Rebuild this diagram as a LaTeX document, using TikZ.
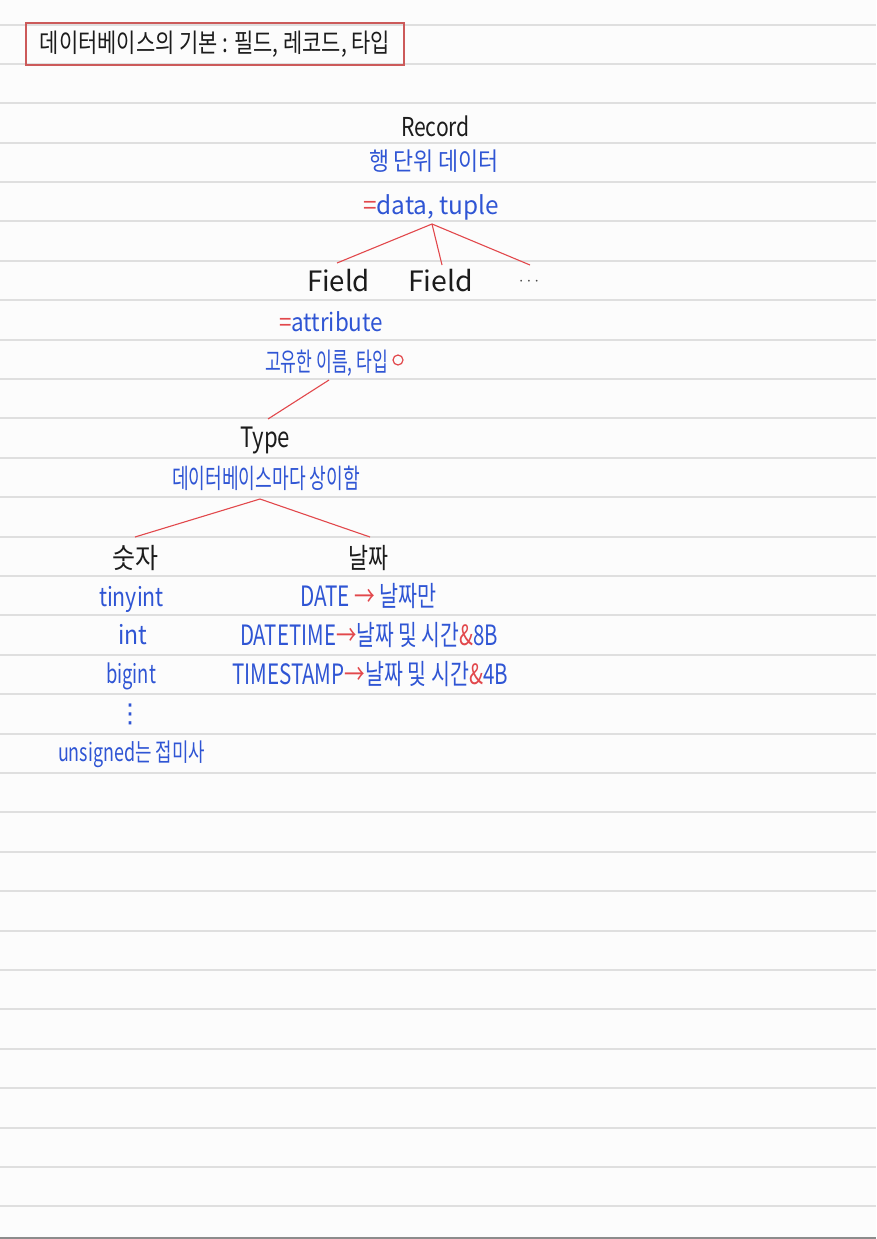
\documentclass[tikz,border=0pt]{standalone}
\usepackage{fontspec}
\setmainfont{Noto Sans CJK KR}
\newfontfamily\symfont{DejaVu Sans}
\usepackage{graphicx}
\definecolor{pen}{HTML}{2F55D4}
\definecolor{redpen}{HTML}{E2484C}
\definecolor{ink}{HTML}{1C1C1C}
\definecolor{rule}{HTML}{DFDFDF}
\definecolor{paper}{HTML}{FCFCFC}
\definecolor{boxred}{HTML}{CC5A5A}
\newsavebox\fitbox
\newcommand\fitx[2]{\sbox\fitbox{#2}\scalebox{\fpeval{#1/\wd\fitbox}}[1]{\usebox\fitbox}}
\newcommand\fsz[1]{\fontsize{#1}{#1}\selectfont}
\tikzset{
  hand/.style={inner sep=0pt, anchor=base},
  black/.style={text=ink},
  blue/.style={text=pen},
  link/.style={draw=redpen, line width=1.1pt},
}
\begin{document}
\begin{tikzpicture}[x=1pt,y=-1pt]
\useasboundingbox (0,0) rectangle (876,1239);
\fill[paper] (0,0) rectangle (876,1239);
\foreach \k in {0,...,30} {
  \pgfmathsetmacro{\yy}{round(24.5+39.4*\k)}
  \draw[rule, line width=2pt] (0,\yy) -- (876,\yy);
}
\draw[gray!90, line width=2pt] (0,1238) -- (876,1238);

% title
\node[draw=boxred, line width=1.4pt, minimum width=378pt, minimum height=42pt, inner sep=0pt, text=ink] (title) at (215,44)
  {\fsz{26}\fitx{350}{데이터베이스의 기본 : 필드, 레코드, 타입}};

% record
\node[hand, black] (rec) at (435.5,136) {\fsz{26}\fitx{69}{Record}};
\node[hand, blue] (recd) at (434,170) {\fsz{25}\fitx{130}{행 단위 데이터}};
\node[hand, blue] (dt) at (431,214) {\fsz{25}\fitx{136}{{\color{redpen}=}data, tuple}};

% fields
\node[hand, black] (f1) at (338.5,291) {\fsz{28}\fitx{63}{Field}};
\node[hand, black] (f2) at (440.5,291) {\fsz{28}\fitx{65}{Field}};
\node[hand, text=ink!80] (dots) at (529,285.5) {\fsz{18}$\cdots$};
\node[hand, blue] (attr) at (331,331) {\fsz{25}\fitx{104}{{\color{redpen}=}attribute}};
\node[hand, blue] (uniq) at (326.5,371) {\fsz{26}\fitx{123}{고유한 이름, 타입}};
\node[draw=redpen, line width=1.2pt, circle, minimum size=10pt, inner sep=0pt] (ring) at (398,360) {};

% type
\node[hand, black] (type) at (265,447) {\fsz{28}\fitx{50}{Type}};
\node[hand, blue] (diff) at (266,488) {\fsz{27}\fitx{188}{데이터베이스마다 상이함}};

% numbers
\node[hand, black] (num) at (135,568) {\fsz{28}\fitx{46}{숫자}};
\node[hand, blue] (tiny) at (131.5,606) {\fsz{26}\fitx{65}{tinyint}};
\node[hand, blue] (int) at (132.5,644) {\fsz{26}\fitx{29}{int}};
\node[hand, blue] (big) at (131,683) {\fsz{26}\fitx{50}{bigint}};
\node[inner sep=0pt, text=pen] (vd) at (130,714) {\symfont\fsz{26}⋮};
\node[hand, blue] (uns) at (131.5,761) {\fsz{25}\fitx{147}{unsigned는 접미사}};

% dates
\node[hand, black] (date) at (368,568) {\fsz{28}\fitx{40}{날짜}};
\node[hand, blue] (d1) at (368.5,606) {\fsz{28}\fitx{137}{DATE {\color{redpen}→} 날짜만}};
\node[hand, blue] (d2) at (369,645) {\fsz{28}\fitx{258}{DATETIME{\color{redpen}→}날짜 및 시간{\color{redpen}\&}8B}};
\node[hand, blue] (d3) at (370,684) {\fsz{28}\fitx{276}{TIMESTAMP{\color{redpen}→}날짜 및 시간{\color{redpen}\&}4B}};

% connectors
\draw[link] ([xshift=1pt,yshift=-10pt]dt.base) -- ([xshift=-1.5pt,yshift=28pt]f1.base);
\draw[link] ([xshift=1pt,yshift=-10pt]dt.base) -- ([xshift=1.5pt,yshift=26pt]f2.base);
\draw[link] ([xshift=1pt,yshift=-10pt]dt.base) -- ([xshift=1pt,yshift=20.5pt]dots.base);
\draw[link] ([xshift=2.5pt,yshift=-9pt]uniq.base) -- ([xshift=3pt,yshift=28pt]type.base);
\draw[link] ([xshift=-6pt,yshift=-11pt]diff.base) -- ([yshift=31pt]num.base);
\draw[link] ([xshift=-6pt,yshift=-11pt]diff.base) -- ([xshift=2pt,yshift=31pt]date.base);
\end{tikzpicture}
\end{document}
